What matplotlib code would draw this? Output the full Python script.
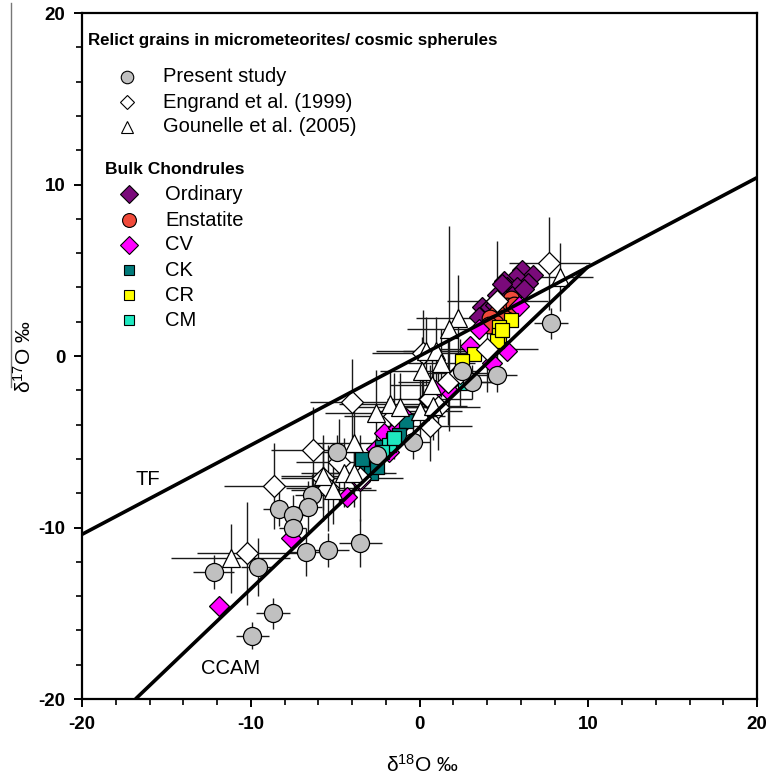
import matplotlib
matplotlib.use("Agg")
import matplotlib.pyplot as plt
from matplotlib.lines import Line2D
import numpy as np

plt.rcParams['font.family'] = ['Liberation Sans', 'DejaVu Sans']
plt.rcParams['mathtext.fontset'] = 'custom'
plt.rcParams['mathtext.rm'] = 'Liberation Sans'
plt.rcParams['mathtext.it'] = 'Liberation Sans:italic'
plt.rcParams['axes.unicode_minus'] = False

# ---------------- data ----------------
# Present study (relict grains) : d18O, d17O, errors
ps_x = [7.8, 4.6, 3.1, 2.5, -0.4, -2.5, -4.9, -6.4, -8.3, -6.6, -7.5, -7.5, -3.5, -5.4, -6.7, -9.6, -12.2, -8.7, -9.9]
ps_y = [1.9, -1.1, -1.5, -0.9, -5.0, -5.8, -5.6, -8.1, -8.9, -8.8, -9.3, -10.0, -10.9, -11.3, -11.4, -12.3, -12.6, -15.0, -16.3]
ps_xe = [1.0, 1.2, 1.2, 1.0, 1.0, 1.0, 1.0, 1.0, 1.0, 0.8, 0.9, 0.8, 1.3, 1.2, 1.0, 1.0, 1.2, 1.0, 1.0]
ps_ye = [0.9, 1.0, 1.0, 1.0, 1.0, 1.0, 1.0, 1.2, 1.0, 1.5, 1.2, 0.8, 1.4, 1.0, 1.4, 1.7, 1.0, 0.9, 0.8]

# Engrand et al. (1999)
en_x = [7.7, 4.6, 4.0, 1.7, 0.6, 0.6, 1.1, -4.0, -6.3, -4.8, -8.6, -10.2, -5.7, -3.5, -5.4, 2.4, -1.5, 0.2]
en_y = [5.4, 3.2, 0.4, -1.5, -2.5, -4.1, -3.0, -2.7, -5.5, -6.2, -7.6, -11.5, -7.1, -7.1, -7.7, -1.0, -3.5, 0.2]
en_xe = [2.4, 3.0, 3.0, 3.0, 2.5, 2.5, 2.5, 2.5, 2.5, 2.5, 3.0, 3.0, 2.5, 2.5, 2.5, 2.5, 3.0, 3.0]
en_ye = [2.7, 3.5, 2.5, 2.5, 2.0, 2.0, 2.5, 2.5, 2.5, 2.5, 2.5, 3.0, 2.5, 2.5, 2.5, 2.0, 2.5, 2.5]

# Gounelle et al. (2005)
go_x = [8.3, 2.3, 1.75, 0.4, 1.0, 1.3, 0.15, 0.75, -1.75, -1.15, 0.0, 0.8, -2.6, -3.9, -4.5, -3.9, -5.7, -5.1, -11.2]
go_y = [4.6, 2.2, 1.6, 0.3, 0.3, -0.4, -0.9, -1.7, -2.8, -3.0, -3.2, -2.9, -3.3, -5.1, -6.8, -6.8, -7.0, -7.8, -11.8]
go_xe = [2.0, 2.5, 2.5, 3.0, 2.0, 2.0, 2.5, 2.5, 3.0, 3.0, 2.5, 2.0, 3.0, 2.5, 2.5, 2.5, 2.5, 2.5, 3.5]
go_ye = [2.0, 2.5, 6.0, 2.0, 2.0, 2.0, 2.0, 2.0, 2.0, 2.0, 2.0, 2.0, 2.5, 2.5, 2.0, 2.0, 2.0, 2.0, 2.0]

# Bulk chondrules
ord_x = [6.1, 6.7, 5.7, 5.0, 6.4, 5.2, 5.8, 4.8, 4.6, 3.7, 4.0, 4.2, 5.5, 6.2, 4.5, 3.5, 5.0, 4.9]
ord_y = [5.0, 4.7, 4.6, 4.4, 4.25, 4.0, 4.0, 3.7, 3.55, 2.85, 2.7, 2.85, 3.5, 3.9, 3.0, 2.3, 3.3, 4.2]
ens_x = [5.4, 5.2, 4.9, 4.6, 4.2, 5.0, 4.5, 5.6, 4.1]
ens_y = [3.3, 2.9, 2.7, 2.5, 2.2, 2.2, 1.9, 3.0, 1.8]
cv_x = [-11.9, -7.6, -4.3, -2.1, 0.5, 1.9, 3.5, 3.0, 4.3, 5.9, 5.2, 1.6, -0.8, -3.0, -1.3, -2.6, 2.4, -3.5, 0.9, -1.8]
cv_y = [-14.6, -10.6, -8.2, -4.5, -2.5, -1.4, 1.6, 0.6, -0.4, 2.9, 0.3, -1.9, -3.6, -6.6, -4.2, -5.4, -0.9, -7.3, -2.0, -5.6]
ck_x = [-0.8, -1.2, -1.6, -2.8, -3.2, -2.9, -2.5, -3.4, -2.2]
ck_y = [-3.8, -4.6, -4.9, -6.2, -6.4, -6.8, -6.5, -6.0, -5.3]
cr_x = [5.4, 4.7, 4.7, 4.6, 4.9, 3.2, 2.5]
cr_y = [2.1, 1.7, 1.2, 0.9, 1.5, 0.1, -0.3]
cm_x = [2.7, -1.8, -1.5, -2.2]
cm_y = [-1.6, -5.2, -4.8, -5.6]

# Reference lines
tf_x = [-20, 20]
tf_slope = 0.52
ccam_x = [-16.83, 10.0]
ccam_slope, ccam_int = 0.94, -4.18

# ---------------- figure ----------------
fig = plt.figure(figsize=(7.69, 7.78), dpi=100)
ax = fig.add_axes([82/769, 1-699/778, (757-82)/769, (699-13)/778])
ax.set_xlim(-20, 20)
ax.set_ylim(-20, 20)

eb_kw = dict(fmt='none', ecolor='#1a1a1a', elinewidth=1.0, capsize=0, zorder=1)
ax.errorbar(en_x, en_y, xerr=en_xe, yerr=en_ye, **eb_kw)
ax.errorbar(go_x, go_y, xerr=go_xe, yerr=go_ye, **eb_kw)
ax.errorbar(ps_x, ps_y, xerr=ps_xe, yerr=ps_ye, **eb_kw)

mk = dict(linestyle='none', markeredgecolor='black', markeredgewidth=0.9)
ax.plot(ord_x, ord_y, marker='D', markersize=10.5, color='#7a0a7a', zorder=3, **mk)
ax.plot(ens_x, ens_y, marker='o', markersize=12, color='#f04a3a', zorder=3, **mk)
ax.plot(cv_x, cv_y, marker='D', markersize=10, color='#ff00ff', zorder=3, **mk)
ax.plot(ck_x, ck_y, marker='s', markersize=10, color='#007a7a', zorder=3, **mk)
ax.plot(cr_x, cr_y, marker='s', markersize=10, color='#ffff00', zorder=3, **mk)
ax.plot(cm_x, cm_y, marker='s', markersize=10, color='#1ee8c0', zorder=3, **mk)

ax.plot(en_x, en_y, marker='D', markersize=11, color='white', zorder=4, **mk)
ax.plot(go_x, go_y, marker='^', markersize=13, color='white', zorder=4, **mk)
ax.plot(ps_x, ps_y, marker='o', markersize=13, color='#c0c0c0', zorder=4, **mk)

tf_x = np.array(tf_x)
ccam_x = np.array(ccam_x)
ax.plot(tf_x, tf_slope*tf_x, color='black', lw=2.6, zorder=6, solid_capstyle='butt')
ax.plot(ccam_x, ccam_slope*ccam_x + ccam_int, color='black', lw=2.6, zorder=6, solid_capstyle='butt')

ax.text(-16.1, -7.2, 'TF', fontsize=14.5, ha='center', va='center')
ax.text(-11.2, -18.2, 'CCAM', fontsize=14.5, ha='center', va='center')

# axes styling
for s in ax.spines.values():
    s.set_linewidth(1.6)
ax.set_xticks([-20, -10, 0, 10, 20])
ax.set_yticks([-20, -10, 0, 10, 20])
ax.set_xticks(np.arange(-20, 21, 2), minor=True)
ax.set_yticks(np.arange(-20, 21, 2), minor=True)
ax.tick_params(which='major', direction='out', length=6, width=1.4, labelsize=13.5, pad=6)
ax.tick_params(which='minor', direction='out', length=4, width=1.2)
ax.tick_params(axis='x', which='both', top=False)
ax.tick_params(axis='y', which='both', right=False)
for lab in ax.get_xticklabels() + ax.get_yticklabels():
    lab.set_fontweight('bold')

fig.text(422/769, 1-765/778, r'δ$^{18}$O ‰', fontsize=15, ha='center', va='center')
fig.text(24/769, 1-357/778, r'δ$^{17}$O ‰', fontsize=15, ha='center', va='center', rotation=90)
fig.add_artist(Line2D([11/769, 11/769], [1-3/778, 1-387/778], color='#777777', lw=1.0, transform=fig.transFigure))

# legend (manual)
def px(xp, yp):
    return ((xp-82)/675*40-20, 20-(yp-13)/686*40)

tx, ty = px(88, 41)
ax.text(tx, ty, 'Relict grains in micrometeorites/ cosmic spherules', fontsize=12.2, fontweight='bold', va='center', ha='left', zorder=8)
leg1 = [('o', '#c0c0c0', 'Present study', 9, 77),
        ('D', 'white', 'Engrand et al. (1999)', 7, 102),
        ('^', 'white', 'Gounelle et al. (2005)', 8, 127)]
for m, c, lab, ms, yp in leg1:
    mx, my = px(127, yp)
    ax.plot([mx], [my], marker=m, markersize=ms, color=c, markeredgecolor='black', markeredgewidth=0.8, linestyle='none', zorder=8)
    lx, ly = px(163, yp)
    ax.text(lx, ly, lab, fontsize=14.5, va='center', ha='left', zorder=8)

tx, ty = px(105, 170)
ax.text(tx, ty, 'Bulk Chondrules', fontsize=12.5, fontweight='bold', va='center', ha='left', zorder=8)
leg2 = [('D', '#7a0a7a', 'Ordinary', 9, 194),
        ('o', '#f04a3a', 'Enstatite', 10, 220),
        ('D', '#ff00ff', 'CV', 9, 245),
        ('s', '#007a7a', 'CK', 7.5, 270),
        ('s', '#ffff00', 'CR', 7.5, 295),
        ('s', '#1ee8c0', 'CM', 7.5, 320)]
for m, c, lab, ms, yp in leg2:
    mx, my = px(129, yp)
    ax.plot([mx], [my], marker=m, markersize=ms, color=c, markeredgecolor='black', markeredgewidth=0.8, linestyle='none', zorder=8)
    lx, ly = px(165, yp)
    ax.text(lx, ly, lab, fontsize=14.5, va='center', ha='left', zorder=8)

fig.savefig('out.png', dpi=100)
